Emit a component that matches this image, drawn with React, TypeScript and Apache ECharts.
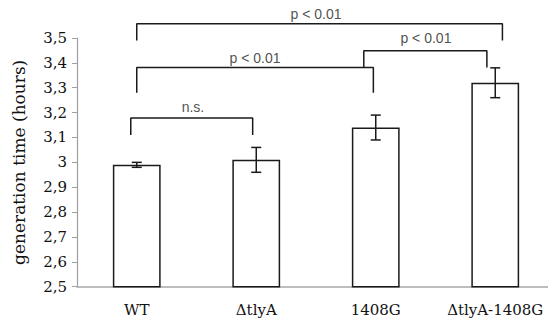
import React, { useEffect, useRef } from "react";
import * as echarts from "echarts";

const categories = ["WT", "ΔtlyA", "1408G", "ΔtlyA-1408G"];
const means = [2.99, 3.01, 3.14, 3.32];
const errLow = [2.98, 2.96, 3.09, 3.26];
const errHigh = [3.0, 3.06, 3.19, 3.38];
const yTickLabels = ["2,5", "2,6", "2,7", "2,8", "2,9", "3", "3,1", "3,2", "3,3", "3,4", "3,5"];

// significance brackets, [x (category units), y (hours)]
const bracketNS = [[-0.05, 3.11], [-0.05, 3.178], [0.97, 3.178], [0.97, 3.11]];
const bracketMid = [[0, 3.28], [0, 3.381], [1.98, 3.381], [1.98, 3.28]];
const bracketRight = [[1.9, 3.381], [1.9, 3.449], [2.93, 3.449], [2.93, 3.381]];
const bracketTop = [[0, 3.49], [0, 3.557], [3.06, 3.557], [3.06, 3.49]];
const annotationTexts = ["n.s.", "p < 0.01", "p < 0.01", "p < 0.01"];
const annotationX = [0.47, 0.99, 2.42, 1.5];
const annotationY = [3.222, 3.419, 3.5, 3.596];

const serif = "'DejaVu Serif', serif";

export default function App() {
  const ref = useRef<HTMLDivElement>(null);
  useEffect(() => {
    if (!ref.current) return;
    const chart = echarts.init(ref.current, undefined, { renderer: "svg" });
    const bracketSeries = [bracketNS, bracketMid, bracketRight, bracketTop].map((b) => ({
      type: "line",
      xAxisIndex: 1,
      yAxisIndex: 0,
      data: b,
      showSymbol: false,
      symbol: "none",
      clip: false,
      silent: true,
      lineStyle: { color: "#1a1a1a", width: 1.5 },
      z: 5,
    }));
    chart.setOption({
      animation: false,
      grid: { left: 77, right: -7, top: 38, bottom: 36.3, outerBoundsMode: "none", containLabel: false },
      xAxis: [
        {
          type: "category",
          data: categories,
          axisLine: { lineStyle: { color: "#a8a8a8", width: 1.5 } },
          axisTick: { show: false },
          axisLabel: {
            interval: 0,
            margin: 16,
            fontFamily: serif,
            fontSize: 15,
            color: "#111",
          },
        },
        { type: "value", min: -0.5, max: 3.5, show: false },
      ],
      yAxis: {
        type: "value",
        min: 2.5,
        max: 3.5,
        interval: 0.1,
        name: "generation time (hours)",
        nameLocation: "middle",
        nameGap: 50,
        nameTextStyle: { fontFamily: serif, fontSize: 17, color: "#111" },
        axisLine: { show: true, onZero: false, lineStyle: { color: "#a0a0a0", width: 1.2 } },
        axisTick: { show: true, length: 5, lineStyle: { color: "#a0a0a0" } },
        splitLine: { show: false },
        axisLabel: {
          margin: 10,
          fontFamily: serif,
          fontSize: 15,
          color: "#111",
          formatter: (v: number) => yTickLabels[Math.round((v - 2.5) * 10)] ?? "",
        },
      },
      series: [
        {
          type: "bar",
          data: means,
          barWidth: "40%",
          itemStyle: { color: "#ffffff", borderColor: "#1a1a1a", borderWidth: 1.5 },
          z: 2,
        },
        {
          type: "custom",
          xAxisIndex: 0,
          yAxisIndex: 0,
          data: categories.map((_, i) => [i, errLow[i], errHigh[i]]),
          z: 4,
          renderItem: (params: any, api: any) => {
            const x = api.value(0);
            const lo = api.coord([x, api.value(1)]);
            const hi = api.coord([x, api.value(2)]);
            const w = 5;
            const st = { stroke: "#1a1a1a", lineWidth: 1.5 };
            return {
              type: "group",
              children: [
                { type: "line", shape: { x1: lo[0], y1: lo[1], x2: hi[0], y2: hi[1] }, style: st },
                { type: "line", shape: { x1: hi[0] - w, y1: hi[1], x2: hi[0] + w, y2: hi[1] }, style: st },
                { type: "line", shape: { x1: lo[0] - w, y1: lo[1], x2: lo[0] + w, y2: lo[1] }, style: st },
              ],
            };
          },
        },
        ...bracketSeries,
        {
          type: "scatter",
          xAxisIndex: 1,
          yAxisIndex: 0,
          clip: false,
          silent: true,
          symbolSize: 1,
          itemStyle: { color: "rgba(0,0,0,0)" },
          data: annotationTexts.map((t, i) => ({ value: [annotationX[i], annotationY[i]], name: t })),
          label: {
            show: true,
            position: "inside",
            formatter: (p: any) => p.name,
            fontFamily: "'Liberation Sans', Arial, sans-serif",
            fontSize: 14,
            color: "#222",
          },
          z: 6,
        },
      ],
    });
    return () => chart.dispose();
  }, []);
  return (
    <div
      ref={ref}
      style={{ position: "fixed", left: 0, top: 0, width: 548, height: 323, background: "#fff" }}
    />
  );
}
